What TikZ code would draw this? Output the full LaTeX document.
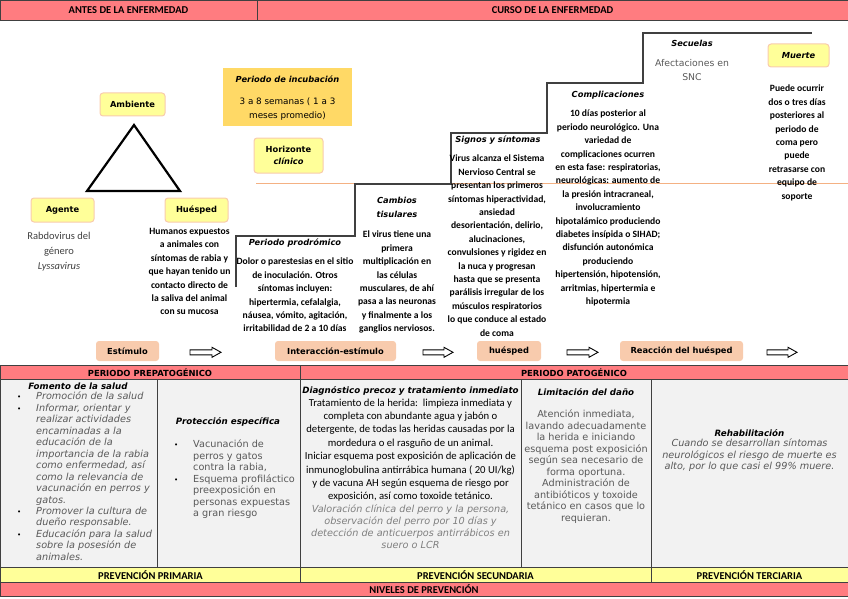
\documentclass[tikz,border=0pt]{standalone}
\usepackage{fontspec}
\setmainfont{Carlito}
\newfontfamily\dv{DejaVu Sans}
\definecolor{pinkh}{HTML}{FF7C80}
\definecolor{yelrow}{HTML}{FFFF99}
\definecolor{boxyel}{HTML}{FFFF99}
\definecolor{boxbord}{HTML}{F8CBAD}
\definecolor{goldbox}{HTML}{FFD966}
\definecolor{peach}{HTML}{F8CBAD}
\definecolor{cellgray}{HTML}{F2F2F2}
\definecolor{txtgray}{HTML}{595959}
\definecolor{ltgray}{HTML}{7F7F7F}
\definecolor{linegray}{HTML}{404040}
\definecolor{lineorange}{HTML}{F4B183}
\newcommand\fLbl{\dv\bfseries\fontsize{8.3}{11}\selectfont}
\newcommand\fLblH{\dv\bfseries\fontsize{8.3}{12}\selectfont}
\newcommand\fLblI{\dv\bfseries\itshape\fontsize{8.3}{14}\selectfont}
\newcommand\fBody{\bfseries\fontsize{9.6}{13.4}\selectfont}
\newcommand\fHead{\bfseries\fontsize{10.5}{12}\selectfont}
\newcommand\fHeadDv{\dv\bfseries\fontsize{8.4}{10}\selectfont}
\newcommand\fTitle{\dv\bfseries\itshape\fontsize{8.7}{11}\selectfont}
\newcommand\fCell{\dv\fontsize{9.7}{11.45}\selectfont}
\newcommand\fCellI{\dv\itshape\fontsize{9.7}{11.45}\selectfont}
\newcommand\fCellIb{\dv\itshape\fontsize{9.7}{11.7}\selectfont}
\newcommand\fTab{\fontsize{10.7}{13.4}\selectfont}
\newcommand\bul{\makebox[19pt][l]{\color{black}\fontsize{7}{8}\selectfont\textbullet}}
\newcommand\ind{\hspace*{19pt}}
\begin{document}
\begin{tikzpicture}[x=1pt,y=-1pt,
  yelbox/.style={draw=boxbord,line width=1pt,fill=boxyel,rounded corners=3pt,inner sep=0pt,font=\fLbl,align=center},
  peachbox/.style={fill=peach,rounded corners=3pt,inner sep=0pt,font=\fLbl},
  body/.style={align=center,inner sep=0pt,anchor=north,font=\fBody},
  ttl/.style={inner sep=0pt,font=\fLblI,align=center},
  tbl/.style={draw=linegray,line width=0.8pt},
  arr/.style={draw=black,line width=0.9pt,fill=white},
  stair/.style={draw=black!75,line width=1.3pt},
  hdr/.style={inner sep=0pt,font=\fHead},
  ctitle/.style={inner sep=0pt,font=\fTitle},
  cell/.style={inner sep=0pt,font=\fCell,text=txtgray,align=center,anchor=north},
  list/.style={inner sep=0pt,align=left,anchor=north west,text=txtgray}]
\useasboundingbox (0,0) rectangle (848,599);
% ---------- header
\fill[pinkh] (0,0) rectangle (848,20);
\draw[tbl] (0,0) rectangle (257,20);
\draw[tbl] (257,0) rectangle (848,20);
\node[hdr] (tA) at (128.5,10.5) {ANTES DE LA ENFERMEDAD};
\node[hdr] (tC) at (552.5,10.5) {CURSO DE LA ENFERMEDAD};
% ---------- guide lines
\draw[lineorange,line width=1pt] (256,183) -- (848,183);
\draw[stair] (236,287) -- (236,236) -- (355,236) -- (355,184) -- (451,184) -- (451,133) -- (547,133) -- (547,83) -- (643,83) -- (643,33) -- (812,33);
% ---------- triad
\node[yelbox,minimum width=65pt,minimum height=23pt] (amb) at (132.5,104.5) {Ambiente};
\draw[line width=2.2pt,line join=miter] (134,125) -- (87,191) -- (180,191) -- cycle;
\node[yelbox,minimum width=63pt,minimum height=24pt] (age) at (62.5,210) {Agente};
\node[yelbox,minimum width=63pt,minimum height=24pt] (hue) at (196.5,210) {Huésped};
\node[inner sep=0pt,anchor=north,align=center,font=\fontsize{10.5}{15}\selectfont,text=linegray] (rab) at (59,232) {Rabdovirus del\\género\\\textit{Lyssavirus}};
\node[body] (huet) at (189.5,228) {Humanos expuestos\\a animales con\\síntomas de rabia y\\que hayan tenido un\\contacto directo de\\la saliva del animal\\con su mucosa};
% ---------- incubation / horizon
\node[fill=goldbox,minimum width=129pt,minimum height=58pt,inner sep=0pt] (inc) at (287.5,97) {};
\node[ttl] (inct) at (287.5,79) {Periodo de incubación};
\node[inner sep=0pt,align=center,font=\dv\fontsize{8.8}{14}\selectfont] (incx) at (287.5,109) {3 a 8 semanas ( 1 a 3\\meses promedio)};
\node[yelbox,minimum width=69pt,minimum height=35pt,font=\fLblH] (hor) at (288.5,155.5) {Horizonte\\\textit{clínico}};
% ---------- stages
\node[ttl] (prot) at (295,243) {Periodo prodrómico};
\node[body] (prox) at (295,258) {Dolor o parestesias en el sitio\\de inoculación. Otros\\síntomas incluyen:\\hipertermia, cefalalgia,\\náusea, vómito, agitación,\\irritabilidad de 2 a 10 días};
\node[ttl] (camt) at (397,207) {Cambios\\tisulares};
\node[body] (camx) at (397,231) {El virus tiene una\\primera\\multiplicación en\\las células\\musculares, de ahí\\pasa a las neuronas\\y finalmente a los\\ganglios nerviosos.};
\node[ttl] (sigt) at (498,140) {Signos y síntomas};
\node[body] (sigx) at (497,155) {Virus alcanza el Sistema\\Nervioso Central se\\presentan los primeros\\síntomas hiperactividad,\\ansiedad\\desorientación, delirio,\\alucinaciones,\\convulsiones y rigidez en\\la nuca y progresan\\hasta que se presenta\\parálisis irregular de los\\músculos respiratorios\\lo que conduce al estado\\de coma};
\node[ttl] (comt) at (608,95) {Complicaciones};
\node[body] (comx) at (608,110) {10 días posterior al\\periodo neurológico. Una\\variedad de\\complicaciones ocurren\\en esta fase: respiratorias,\\neurológicas: aumento de\\la presión intracraneal,\\involucramiento\\hipotalámico produciendo\\diabetes insípida o SIHAD;\\disfunción autonómica\\produciendo\\hipertensión, hipotensión,\\arritmias, hipertermia e\\hipotermia};
\node[ttl] (sect) at (692,43) {Secuelas};
\node[inner sep=0pt,align=center,font=\dv\fontsize{9.3}{14}\selectfont,text=txtgray] (secx) at (692,70) {Afectaciones en\\SNC};
\node[yelbox,minimum width=61pt,minimum height=23pt,font=\fLblI] (mue) at (798.5,55.5) {Muerte};
\node[body] (muex) at (797,85) {Puede ocurrir\\dos o tres días\\posteriores al\\periodo de\\coma pero\\puede\\retrasarse con\\equipo de\\soporte};
% ---------- stimulus row
\node[peachbox,minimum width=63pt,minimum height=20pt] (est) at (127.5,351) {Estímulo};
\node[peachbox,minimum width=121pt,minimum height=20pt] (int) at (335.5,351) {Interacción-estímulo};
\node[peachbox,minimum width=64pt,minimum height=20pt] (hup) at (509,351) {huésped};
\node[peachbox,minimum width=123pt,minimum height=20pt] (rea) at (681.5,351) {Reacción del huésped};
\foreach \a/\b in {190/221,423/453,567/598,767/797}{
  \draw[arr] (\a,349.8) -- (\b-9,349.8) -- (\b-9,347.3) -- (\b,352.3) -- (\b-9,357.3) -- (\b-9,354.8) -- (\a,354.8) -- cycle;}
% ---------- table
\fill[pinkh] (0,365) rectangle (848,379);
\fill[cellgray] (0,379) rectangle (848,567);
\fill[yelrow] (0,567) rectangle (848,582);
\fill[pinkh] (0,582) rectangle (848,596);
\draw[tbl] (0,365) rectangle (848,596);
\draw[tbl] (0,379) -- (848,379) (0,567) -- (848,567) (0,582) -- (848,582);
\draw[tbl] (300,365) -- (300,582);
\draw[tbl] (157,379) -- (157,567) (521,379) -- (521,567) (651,379) -- (651,582);
\node[inner sep=0pt,font=\fHeadDv] (pre) at (150,372.3) {PERIODO PREPATOGÉNICO};
\node[inner sep=0pt,font=\fHeadDv] (pat) at (574,372.3) {PERIODO PATOGÉNICO};
\node[hdr] (pp) at (150.5,574.8) {PREVENCIÓN PRIMARIA};
\node[hdr] (ps) at (475.5,574.8) {PREVENCIÓN SECUNDARIA};
\node[hdr] (pt) at (749.5,574.8) {PREVENCIÓN TERCIARIA};
\node[hdr] (niv) at (424,589.3) {NIVELES DE PREVENCIÓN};
% col 1
\node[ctitle] (c1t) at (78,386) {Fomento de la salud};
\node[list,font=\fCellI] (c1x) at (17,392) {\bul Promoción de la salud\\
\bul Informar, orientar y\\ \ind realizar actividades\\ \ind encaminadas a la\\ \ind educación de la\\ \ind importancia de la rabia\\ \ind como enfermedad, así\\ \ind como la relevancia de\\ \ind vacunación en perros y\\ \ind gatos.\\
\bul Promover la cultura de\\ \ind dueño responsable.\\
\bul Educación para la salud\\ \ind sobre la posesión de\\ \ind animales.};
% col 2
\node[ctitle] (c2t) at (228,422) {Protección específica};
\node[list,font=\fCell] (c2x) at (174,440) {\bul Vacunación de\\ \ind perros y gatos\\ \ind contra la rabia,\\
\bul Esquema profiláctico\\ \ind preexposición en\\ \ind personas expuestas\\ \ind a gran riesgo};
% col 3
\node[ctitle] (c3t) at (410.5,391) {Diagnóstico precoz y tratamiento inmediato};
\node[inner sep=0pt,align=center,anchor=north,font=\fTab] (c3x) at (410.5,398.5) {Tratamiento de la herida:\ \ limpieza inmediata y\\completa con abundante agua y jabón o\\detergente, de todas las heridas causadas por la\\mordedura o el rasguño de un animal.\\Iniciar esquema post exposición de aplicación de\\inmunoglobulina antirrábica humana ( 20 UI/kg)\\y de vacuna AH según esquema de riesgo por\\exposición, así como toxoide tetánico.};
\node[cell,font=\fCellIb,text=ltgray] (c3y) at (410.5,505) {Valoración clínica del perro y la persona,\\observación del perro por 10 días y\\detección de anticuerpos antirrábicos en\\suero o LCR};
% col 4
\node[ctitle] (c4t) at (586,392) {Limitación del daño};
\node[cell] (c4x) at (586,410) {Atención inmediata,\\lavando adecuadamente\\la herida e iniciando\\esquema post exposición\\según sea necesario de\\forma oportuna.\\Administración de\\antibióticos y toxoide\\tetánico en casos que lo\\requieran.};
% col 5
\node[ctitle] (c5t) at (749.5,433) {Rehabilitación};
\node[cell,font=\fCellI] (c5x) at (749.5,439) {Cuando se desarrollan síntomas\\neurológicos el riesgo de muerte es\\alto, por lo que casi el 99\% muere.};
\end{tikzpicture}
\end{document}
